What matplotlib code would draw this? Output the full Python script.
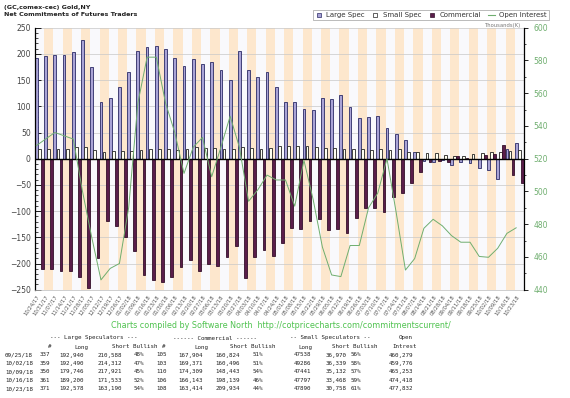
import matplotlib
matplotlib.use("Agg")
import matplotlib.pyplot as plt
from matplotlib.lines import Line2D
from matplotlib.ticker import MultipleLocator
import numpy as np

W, H = 570, 398

week_labels = [
    "10/24/17", "10/31/17", "11/07/17", "11/14/17", "11/21/17", "11/28/17", "12/05/17",
    "12/12/17", "12/19/17", "12/26/17", "01/02/18", "01/09/18", "01/16/18", "01/23/18",
    "01/30/18", "02/06/18", "02/13/18", "02/20/18", "02/27/18", "03/06/18", "03/13/18",
    "03/20/18", "03/27/18", "04/03/18", "04/10/18", "04/17/18", "04/24/18", "05/01/18",
    "05/08/18", "05/15/18", "05/22/18", "05/29/18", "06/05/18", "06/12/18", "06/19/18",
    "06/26/18", "07/03/18", "07/10/18", "07/17/18", "07/24/18", "07/31/18", "08/07/18",
    "08/14/18", "08/21/18", "08/28/18", "09/04/18", "09/11/18", "09/18/18", "09/25/18",
    "10/02/18", "10/09/18", "10/16/18", "10/23/18",
]

# net positions, thousands of contracts
large_spec = [193, 196, 198, 197, 203, 226, 175, 109, 115, 137,
              166, 205, 213, 216, 209, 193, 177, 191, 181, 185,
              169, 150, 205, 169, 155, 165, 137, 108, 108, 94,
              92, 116, 113, 121, 98, 77, 79, 81, 58, 48,
              36, 13, -4, -7, -2, -12, -6, -9, -17.6, -21.8,
              -38.2, 17.7, 29.4]
small_spec = [19, 18, 19, 19, 22, 22, 16, 13, 14, 14,
              14, 16, 19, 19, 18, 16, 19, 23, 21, 21,
              19, 18, 23, 21, 19, 21, 24, 24, 25, 24,
              23, 21, 21, 19, 18, 19, 16, 19, 17, 18,
              12, 12, 10, 11, 8, 6, 5, 9, 10.6, 12.9,
              12.3, 14.3, 17.1]
commercial = [-210, -210, -214, -214, -225, -247, -189, -119, -128, -149,
              -177, -222, -231, -235, -225, -206, -193, -214, -200, -205,
              -188, -167, -227, -188, -174, -186, -161, -132, -135, -119,
              -115, -136, -134, -141, -114, -94, -95, -101, -73, -66,
              -47, -25, -6, -4, -6, 6, 1, 0, 7.1, 8.9,
              25.9, -32.0, -46.5]
open_interest = [528, 532, 536, 534, 532, 500, 472, 446, 453, 456,
                 490, 554, 582, 582, 554, 536, 511, 527, 533, 509,
                 527, 546, 527, 494, 501, 510, 507, 507, 491, 519,
                 495, 466, 449, 448, 467, 467, 490, 499, 520, 487,
                 452, 459, 477.5, 483, 479, 473, 469, 469, 460.3, 459.8,
                 465.3, 474.4, 477.8]

# table under the chart
tbl_dates = ["09/25/18", "10/02/18", "10/09/18", "10/16/18", "10/23/18"]
ls_traders = [337, 359, 350, 361, 371]
ls_long = [192940, 192490, 179746, 189200, 192578]
ls_short = [210588, 214312, 217921, 171533, 163190]
ls_bull = [48, 47, 45, 52, 54]
cm_traders = [105, 103, 110, 106, 108]
cm_long = [167904, 169371, 174309, 166143, 163414]
cm_short = [160824, 160496, 148443, 198139, 209934]
cm_bull = [51, 51, 54, 46, 44]
ss_long = [47538, 49286, 47441, 47797, 47890]
ss_short = [36970, 36339, 35132, 33468, 30758]
ss_bull = [56, 58, 57, 59, 61]
oi_tbl = [460279, 459776, 465253, 474418, 477832]

LAV = "#a9a3d6"
LAV_EDGE = "#2a2a66"
DARK = "#5a1d4a"
DARK_EDGE = "#33102a"
PEACH = "#fde7cd"
GREEN = "#6fae6f"


def px(x, y):
    return x / W, 1 - y / H


fig = plt.figure(figsize=(W / 100, H / 100), dpi=100)
fig.patch.set_facecolor("white")
l, t, r, b = 35, 27.7, 524, 289.7
ax = fig.add_axes([l / W, 1 - b / H, (r - l) / W, (b - t) / H])
ax.set_facecolor("#f9f9fc")

n = len(week_labels)
x = np.arange(n)
for i in range(1, n, 2):
    ax.axvspan(i, i + 1, color=PEACH, lw=0, zorder=0)

bw = 1 / 3
ax.bar(x, large_spec, width=bw * 0.9, align="edge", color=LAV,
       edgecolor=LAV_EDGE, lw=0.6, zorder=2)
ax.bar(x + bw, small_spec, width=bw * 0.9, align="edge", color="#fffff2",
       edgecolor="#222222", lw=0.6, zorder=2)
ax.bar(x + 2 * bw, commercial, width=bw * 0.9, align="edge", color=DARK,
       edgecolor=DARK_EDGE, lw=0.6, zorder=2)
ax.axhline(0, color="black", lw=1.0, zorder=3)

ax.set_xlim(0, n)
ax.set_ylim(-250, 250)
ax.yaxis.set_major_locator(MultipleLocator(50))
ax.yaxis.set_minor_locator(MultipleLocator(10))
ax.grid(axis="y", which="major", color="#c8c8c8", lw=0.5, zorder=1)
ax.set_axisbelow(True)
ax.tick_params(axis="y", which="major", direction="in", length=4, width=0.6,
               labelsize=5.5, labelcolor="#444444", pad=3)
ax.tick_params(axis="y", which="minor", direction="in", length=2, width=0.5)
ax.set_xticks(x + 0.15)
ax.set_xticklabels(week_labels, rotation=55, ha="right", rotation_mode="anchor",
                   fontsize=3.8, color="#555555")
ax.tick_params(axis="x", length=0, pad=3)
for s in ("top", "right"):
    ax.spines[s].set_visible(False)
ax.spines["left"].set_linewidth(0.9)
ax.spines["bottom"].set_color("#bbbbbb")
ax.spines["bottom"].set_linewidth(0.5)

ax2 = ax.twinx()
ax2.plot(x + 0.15, open_interest, color=GREEN, lw=0.7, zorder=4)
ax2.set_ylim(440, 600)
ax2.yaxis.set_major_locator(MultipleLocator(20))
ax2.yaxis.set_minor_locator(MultipleLocator(10))
ax2.tick_params(axis="y", which="major", direction="out", length=3, width=0.6,
                labelsize=5.5, labelcolor=GREEN, pad=4)
ax2.tick_params(axis="y", which="minor", direction="out", length=1.5, width=0.5)
for s in ("top", "left", "bottom"):
    ax2.spines[s].set_visible(False)
ax2.spines["right"].set_linewidth(0.9)

# titles
fig.text(*px(4, 8), "(GC,comex-cec) Gold,NY", fontsize=4.6, fontweight="bold",
         color="#222222", va="center")
fig.text(*px(4, 15), "Net Commitments of Futures Traders", fontsize=4.6,
         fontweight="bold", color="#222222", va="center")
fig.text(*px(521, 25), "Thousands(K)", fontsize=3.8, color="#777777",
         ha="right", va="center")

handles = [
    Line2D([], [], ls="none", marker="s", ms=3, mfc=LAV, mec=LAV_EDGE, mew=0.5),
    Line2D([], [], ls="none", marker="s", ms=3, mfc="white", mec="#222222", mew=0.5),
    Line2D([], [], ls="none", marker="s", ms=3, mfc=DARK, mec=DARK_EDGE, mew=0.5),
    Line2D([], [], color=GREEN, lw=0.8),
]
leg = fig.legend(handles, ["Large Spec", "Small Spec", "Commercial", "Open Interest"],
                 loc="center", bbox_to_anchor=(px(431, 15)), ncol=4, fontsize=5,
                 frameon=True, fancybox=False, handlelength=1.0, handletextpad=0.6,
                 columnspacing=1.0, borderpad=0.35)
leg.get_frame().set_edgecolor("#888888")
leg.get_frame().set_linewidth(0.5)
for txt in leg.get_texts():
    txt.set_color("#333333")

fig.text(*px(281, 326),
         "Charts compiled by Software North  http://cotpricecharts.com/commitmentscurrent/",
         fontsize=5.8, color="#4fc24f", ha="center", va="center")

# table
mono = dict(family="DejaVu Sans Mono", fontsize=4.2, color="#222222", va="center")
hy1, hy2 = 338, 347
fig.text(*px(94, hy1), "--- Large Speculators ---", ha="center", **mono)
fig.text(*px(215, hy1), "------ Commercial ------", ha="center", **mono)
fig.text(*px(330, hy1), "-- Small Speculators --", ha="center", **mono)
fig.text(*px(413, hy1), "Open", ha="right", **mono)
fig.text(*px(52, hy2), "#", ha="right", **mono)
fig.text(*px(88, hy2), "Long", ha="right", **mono)
fig.text(*px(157, hy2), "Short Bullish", ha="right", **mono)
fig.text(*px(166, hy2), "#", ha="right", **mono)
fig.text(*px(208, hy2), "Long", ha="right", **mono)
fig.text(*px(275, hy2), "Short Bullish", ha="right", **mono)
fig.text(*px(312, hy2), "Long", ha="right", **mono)
fig.text(*px(378, hy2), "Short Bullish", ha="right", **mono)
fig.text(*px(417, hy2), "Intrest", ha="right", **mono)

for k in range(len(tbl_dates)):
    y = 355 + k * 8.4
    fig.text(*px(5, y), tbl_dates[k], ha="left", **mono)
    fig.text(*px(50, y), str(ls_traders[k]), ha="right", **mono)
    fig.text(*px(84, y), f"{ls_long[k]:,}", ha="right", **mono)
    fig.text(*px(122, y), f"{ls_short[k]:,}", ha="right", **mono)
    fig.text(*px(144, y), f"{ls_bull[k]}%", ha="right", **mono)
    fig.text(*px(167, y), str(cm_traders[k]), ha="right", **mono)
    fig.text(*px(203, y), f"{cm_long[k]:,}", ha="right", **mono)
    fig.text(*px(240, y), f"{cm_short[k]:,}", ha="right", **mono)
    fig.text(*px(263, y), f"{cm_bull[k]}%", ha="right", **mono)
    fig.text(*px(311, y), str(ss_long[k]), ha="right", **mono)
    fig.text(*px(347, y), f"{ss_short[k]:,}", ha="right", **mono)
    fig.text(*px(361, y), f"{ss_bull[k]}%", ha="right", **mono)
    fig.text(*px(413, y), f"{oi_tbl[k]:,}", ha="right", **mono)

fig.savefig("out.png", dpi=100)
